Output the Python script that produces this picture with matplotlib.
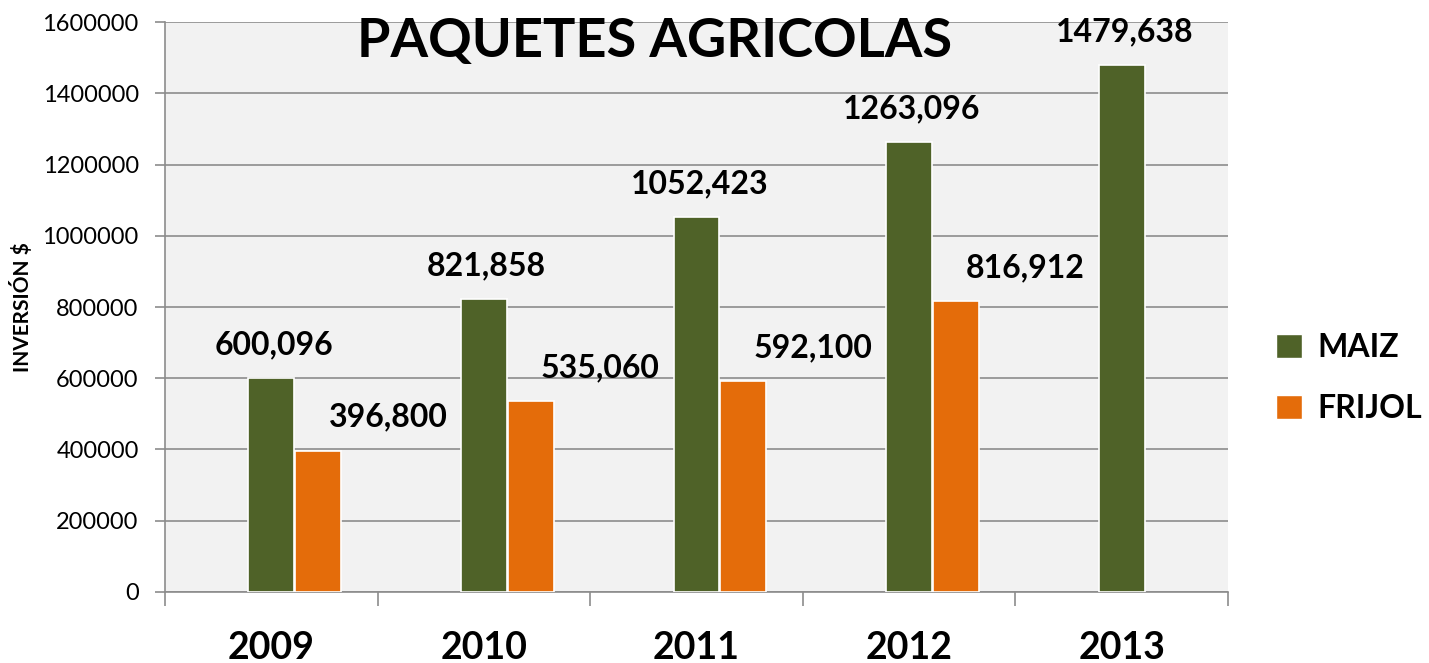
import numpy as np
import matplotlib
matplotlib.use('Agg')
import matplotlib.pyplot as plt
from matplotlib.patches import Patch

years = ['2009', '2010', '2011', '2012', '2013']
maiz = [600096, 821858, 1052423, 1263096, 1479638]
frijol = [396800, 535060, 592100, 816912, 0]
maiz_lbl = ['600,096', '821,858', '1052,423', '1263,096', '1479,638']
frijol_lbl = ['396,800', '535,060', '592,100', '816,912', None]

green = '#4F6228'
orange = '#E46C0A'
plt.rcParams['font.family'] = ['Lato', 'DejaVu Sans']

fig = plt.figure(figsize=(14.29, 6.63), dpi=100)
ax = fig.add_axes([0.1155, 0.1071, 0.7438, 0.8597])
ax.set_facecolor('#F2F2F2')

x = np.arange(len(years))
w = 0.215
ax.bar(x, maiz, w, color=green, edgecolor='white', linewidth=1.2, zorder=3)
ax.bar(x + w + 0.005, frijol, w, color=orange, edgecolor='white',
       linewidth=[1.2 if v else 0 for v in frijol], zorder=3)

for i in range(len(years)):
    ax.annotate(maiz_lbl[i], (x[i], maiz[i]), xytext=(2, 24), textcoords='offset points',
                ha='center', va='center', fontsize=23, fontweight='bold', zorder=4)
    if frijol_lbl[i]:
        ax.annotate(frijol_lbl[i], (x[i] + w, frijol[i]), xytext=(51, 24), textcoords='offset points',
                    ha='center', va='center', fontsize=23, fontweight='bold', zorder=4)

ax.set_xlim(-0.5, 4.5)
ax.set_ylim(0, 1600000)
ax.set_yticks(np.arange(0, 1600001, 200000))
ax.set_yticklabels([str(v) for v in range(0, 1600001, 200000)], fontsize=17)
ax.yaxis.grid(True, color='#8C8C8C', linewidth=1.2, zorder=0)
ax.tick_params(axis='y', length=7, color='#8C8C8C', width=1.2, pad=12)

ax.set_xticks(x)
ax.set_xticklabels(years, fontsize=27, fontweight='bold')
ax.tick_params(axis='x', which='major', length=0, pad=28)
ax.set_xticks(np.arange(-0.5, 5, 1), minor=True)
ax.tick_params(axis='x', which='minor', length=10, color='#8C8C8C', width=1.2)

for s in ['top', 'right']:
    ax.spines[s].set_visible(False)
for s in ['left', 'bottom']:
    ax.spines[s].set_color('#8C8C8C')
    ax.spines[s].set_linewidth(1.2)

ax.set_ylabel('INVERSIÓN $', fontsize=15, fontweight='bold', labelpad=7)

fig.text(655 / 1429, 1 - 42 / 663, 'PAQUETES AGRICOLAS', ha='center', va='center',
         fontsize=39, fontweight='bold')

handles = [Patch(facecolor=green, edgecolor='white'), Patch(facecolor=orange, edgecolor='white')]
fig.legend(handles, ['MAIZ', 'FRIJOL'], loc='center left', bbox_to_anchor=(0.893, 0.43),
           frameon=False, prop={'size': 23, 'weight': 'bold'}, handlelength=0.8, handleheight=0.8,
           handletextpad=0.5, labelspacing=1.0, borderpad=0, borderaxespad=0)

fig.savefig('out.png', dpi=100)
